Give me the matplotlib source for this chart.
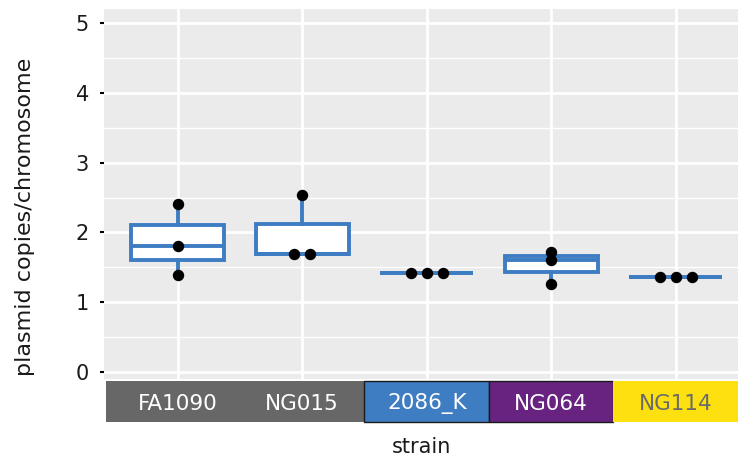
import numpy as np
import matplotlib.pyplot as plt
import matplotlib.transforms as mtransforms
from matplotlib.patches import Rectangle

plt.rcParams['font.family'] = ['DejaVu Sans']

# values
strains = ['FA1090', 'NG015', '2086_K', 'NG064', 'NG114']
fa1090 = [2.40, 1.81, 1.385]
ng015 = [2.54, 1.69, 1.69]
k2086 = [1.42, 1.42, 1.42]
ng064 = [1.72, 1.61, 1.26]
ng114 = [1.36, 1.36, 1.36]
copies = [fa1090, ng015, k2086, ng064, ng114]

# coloured strain bars under the panel
bar_groups = [['FA1090', 'NG015'], ['2086_K'], ['NG064'], ['NG114']]
bar_fill = ['#676767', '#3e7dc2', '#67237f', '#fce010']
bar_text = ['white', 'white', 'white', '#6a6a6a']
bar_edge = ['none', '#1a1a1a', '#1a1a1a', 'none']

box_col = '#3e7dc2'

fig = plt.figure(figsize=(7.38, 4.63), dpi=100)
ax = fig.add_axes([0.1413, 0.182, 0.8587, 0.7986])
ax.set_facecolor('#EBEBEB')

pos = np.arange(1, len(strains) + 1)
xmin, xmax = 0.41, 5.5
ax.set_xlim(xmin, xmax)
ax.set_ylim(-0.10, 5.205)

# grid
for v in np.arange(0.5, 5.0, 1.0):
    ax.axhline(v, color='white', lw=1.0, zorder=0)
for v in range(0, 6):
    ax.axhline(v, color='white', lw=2.0, zorder=0)
for p in pos:
    ax.axvline(p, color='white', lw=2.0, zorder=0)

bp = ax.boxplot(copies, positions=pos, widths=0.75, patch_artist=True,
                showfliers=False, showcaps=False, whis=1.5, zorder=2)
for b in bp['boxes']:
    b.set(facecolor='white', edgecolor=box_col, linewidth=2.8)
for w in bp['whiskers']:
    w.set(color=box_col, linewidth=2.8)
for m in bp['medians']:
    m.set(color=box_col, linewidth=2.8)

# points, equal values spread sideways
step = 0.13
for p, vals in zip(pos, copies):
    vals = np.array(vals)
    for v in np.unique(vals):
        n = np.sum(vals == v)
        offs = (np.arange(n) - (n - 1) / 2) * step
        ax.scatter(p + offs, [v] * n, s=52, color='black', zorder=3)

ax.set_yticks(range(0, 6))
ax.set_yticklabels([str(i) for i in range(0, 6)])
ax.set_xticks([])
ax.tick_params(axis='y', length=3, width=1.5, color='black', pad=8,
               labelsize=15, labelcolor='#1a1a1a')
for s in ax.spines.values():
    s.set_visible(False)

ax.set_ylabel('plasmid copies/chromosome', fontsize=16, color='#1a1a1a')
ax.yaxis.set_label_coords(-0.109, 0.437)
ax.set_xlabel('strain', fontsize=15, color='#1a1a1a', labelpad=42)

# strain bars
trans = mtransforms.blended_transform_factory(ax.transData, ax.transAxes)
y0, y1 = -0.117, -0.006
for grp, fc, tc, ec in zip(bar_groups, bar_fill, bar_text, bar_edge):
    idx = [strains.index(g) + 1 for g in grp]
    left = idx[0] - 0.5 if idx[0] > 1 else xmin + 0.01
    right = idx[-1] + 0.5 if idx[-1] < len(strains) else xmax + 0.2
    ax.add_patch(Rectangle((left, y0), right - left, y1 - y0, transform=trans,
                           facecolor=fc, edgecolor=ec, lw=1.0, clip_on=False, zorder=4))
    for i in idx:
        ax.text(i, (y0 + y1) / 2 - 0.006, strains[i - 1], transform=trans, ha='center',
                va='center', color=tc, fontsize=15.5, zorder=5, clip_on=False)

fig.savefig('out.png', dpi=100)
